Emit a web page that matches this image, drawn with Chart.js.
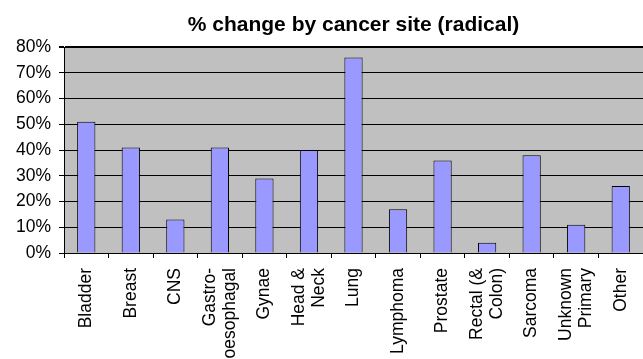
<!DOCTYPE html>
<html>
<head>
<meta charset="utf-8">
<script src="https://cdn.jsdelivr.net/npm/chart.js@4/dist/chart.umd.min.js"></script>
<style>
  html, body { margin: 0; padding: 0; background: #fff; }
  #wrap { width: 643px; height: 359px; }
</style>
</head>
<body>
<div id="wrap"><canvas id="chart"></canvas></div>
<script>
// categories (multi-line labels as arrays)
const sites = [
    'Bladder', 'Breast', 'CNS', ['Gastro-', 'oesophagal'], 'Gynae', ['Head &', 'Neck'], 'Lung',
    'Lymphoma', 'Prostate', ['Rectal (&', 'Colon)'], 'Sarcoma', ['Unknown', 'Primary'], 'Other'
];
// % change per site
const pctChange = [51, 41, 13, 41, 29, 40, 76, 17, 36, 4, 38, 11, 26];
const yMax = 80;
const yStep = 10;

const fontFamily = 'Arial, "Liberation Sans", sans-serif';
const labelSize = 17.5;

// gray plot background
const plotBg = {
    id: 'plotBg',
    beforeDraw(chart) {
        const a = chart.chartArea;
        const ctx = chart.ctx;
        ctx.save();
        ctx.fillStyle = '#C0C0C0';
        ctx.fillRect(a.left, a.top, a.right - a.left, a.bottom - a.top);
        ctx.restore();
    }
};

// vertical category labels, multi-line ones centred on the category
const xLabels = {
    id: 'xLabels',
    afterDraw(chart) {
        const xs = chart.scales.x;
        const ctx = chart.ctx;
        const lh = labelSize * 1.15;
        ctx.save();
        ctx.fillStyle = '#000';
        ctx.font = labelSize + 'px ' + fontFamily;
        ctx.textAlign = 'right';
        ctx.textBaseline = 'middle';
        chart.data.labels.forEach((lbl, i) => {
            const lines = Array.isArray(lbl) ? lbl : [lbl];
            const x = xs.getPixelForValue(i);
            ctx.save();
            ctx.translate(x, xs.top + 15);
            ctx.rotate(-Math.PI / 2);
            lines.forEach((t, j) => {
                ctx.fillText(t, 0, (j - (lines.length - 1) / 2) * lh);
            });
            ctx.restore();
        });
        ctx.restore();
    }
};

new Chart(document.getElementById('chart'), {
    type: 'bar',
    data: {
        labels: sites,
        datasets: [{
            data: pctChange,
            backgroundColor: '#9999FF',
            borderColor: '#000000',
            borderWidth: 1,
            categoryPercentage: 1,
            barPercentage: 0.41
        }]
    },
    options: {
        responsive: true,
        maintainAspectRatio: false,
        animation: false,
        layout: { padding: 0 },
        plugins: {
            legend: { display: false },
            tooltip: { enabled: false },
            title: {
                display: true,
                text: '% change by cancer site (radical)',
                color: '#000',
                fullSize: false,
                font: { family: fontFamily, size: 21, weight: 'bold' },
                padding: { top: 13, bottom: 9 }
            }
        },
        scales: {
            x: {
                offset: true,
                grid: {
                    offset: true,
                    drawOnChartArea: false,
                    drawTicks: true,
                    tickLength: 5,
                    color: '#000'
                },
                border: { color: '#000', width: 1 },
                ticks: { display: false },
                afterFit(scale) { scale.height = 106; }
            },
            y: {
                min: 0,
                max: yMax,
                grid: {
                    color: '#000',
                    lineWidth: (c) => (c.tick && c.tick.value === yMax ? 2 : 1),
                    tickLength: 5
                },
                border: { color: '#000', width: 1 },
                ticks: {
                    stepSize: yStep,
                    color: '#000',
                    padding: 8,
                    font: { family: fontFamily, size: labelSize },
                    callback: (v) => v + '%'
                },
                afterFit(scale) { scale.width = 64; }
            }
        }
    },
    plugins: [plotBg, xLabels]
});
</script>
</body>
</html>
